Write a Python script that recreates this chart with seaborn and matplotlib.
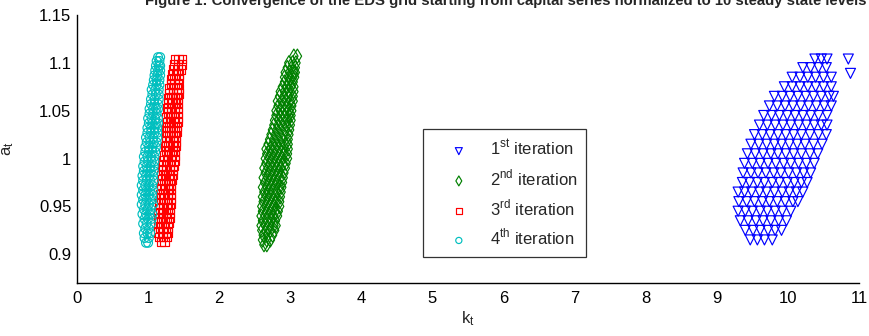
import matplotlib
matplotlib.use("Agg")
import matplotlib.pyplot as plt
import pandas as pd
import seaborn as sns

# ---- data: each row is one a-level with its k points ----
# 1st iteration (blue triangles)
it1_a = [0.915, 0.925, 0.935, 0.945, 0.955, 0.965, 0.975, 0.985, 0.995, 1.005,
         1.015, 1.025, 1.035, 1.045, 1.055, 1.065, 1.075, 1.085, 1.095, 1.104, 1.089]
it1_k = [
    [9.47, 9.57, 9.67, 9.78],
    [9.40, 9.51, 9.61, 9.72, 9.82, 9.91],
    [9.33, 9.44, 9.55, 9.65, 9.76, 9.87, 9.98],
    [9.30, 9.40, 9.50, 9.61, 9.71, 9.82, 9.92, 10.04],
    [9.31, 9.42, 9.53, 9.64, 9.74, 9.85, 9.96, 10.07, 10.14],
    [9.30, 9.39, 9.49, 9.60, 9.70, 9.81, 9.92, 10.02, 10.12, 10.21],
    [9.36, 9.46, 9.57, 9.67, 9.78, 9.88, 9.99, 10.09, 10.19, 10.27],
    [9.37, 9.48, 9.58, 9.69, 9.80, 9.90, 10.01, 10.12, 10.22, 10.32],
    [9.39, 9.50, 9.61, 9.72, 9.83, 9.94, 10.04, 10.15, 10.26, 10.37],
    [9.43, 9.54, 9.65, 9.76, 9.86, 9.97, 10.08, 10.19, 10.31, 10.42],
    [9.48, 9.59, 9.70, 9.81, 9.91, 10.02, 10.13, 10.24, 10.36, 10.48],
    [9.53, 9.64, 9.75, 9.86, 9.97, 10.08, 10.19, 10.31, 10.43, 10.54],
    [9.60, 9.71, 9.82, 9.93, 10.04, 10.15, 10.26, 10.37, 10.47, 10.55],
    [9.66, 9.77, 9.88, 9.99, 10.10, 10.21, 10.32, 10.43, 10.55],
    [9.74, 9.85, 9.96, 10.07, 10.18, 10.29, 10.40, 10.51, 10.61],
    [9.81, 9.92, 10.03, 10.14, 10.25, 10.36, 10.47, 10.58, 10.64],
    [9.95, 10.06, 10.17, 10.28, 10.39, 10.50, 10.61],
    [10.06, 10.17, 10.28, 10.39, 10.50, 10.61],
    [10.21, 10.32, 10.43, 10.54],
    [10.38, 10.47, 10.55, 10.85],
    [10.88],
]

# 2nd iteration (green diamonds)
it2_a = [0.910, 0.915, 0.920, 0.925, 0.930, 0.935, 0.940, 0.945, 0.950, 0.955,
         0.960, 0.965, 0.970, 0.975, 0.980, 0.985, 0.990, 0.995, 1.000, 1.005,
         1.010, 1.015, 1.020, 1.025, 1.030, 1.035, 1.040, 1.045, 1.050, 1.055,
         1.060, 1.065, 1.070, 1.075, 1.080, 1.085, 1.090, 1.095, 1.100, 1.107]
it2_k = [
    [2.63, 2.67], [2.61, 2.67, 2.72], [2.62, 2.68, 2.75],
    [2.60, 2.66, 2.72, 2.78], [2.59, 2.65, 2.71, 2.77, 2.80],
    [2.61, 2.67, 2.73, 2.79], [2.59, 2.65, 2.71, 2.77, 2.82],
    [2.61, 2.67, 2.73, 2.79, 2.83], [2.60, 2.66, 2.72, 2.78, 2.85],
    [2.62, 2.68, 2.74, 2.80, 2.85], [2.61, 2.67, 2.73, 2.79, 2.86],
    [2.63, 2.69, 2.75, 2.81, 2.87], [2.61, 2.67, 2.73, 2.79, 2.85, 2.88],
    [2.64, 2.70, 2.76, 2.82, 2.89], [2.62, 2.68, 2.74, 2.80, 2.86, 2.90],
    [2.65, 2.71, 2.77, 2.83, 2.91], [2.63, 2.69, 2.75, 2.81, 2.87, 2.93],
    [2.66, 2.72, 2.78, 2.84, 2.90, 2.94], [2.65, 2.71, 2.77, 2.83, 2.89, 2.96],
    [2.67, 2.73, 2.79, 2.85, 2.91, 2.96], [2.66, 2.72, 2.78, 2.84, 2.90, 2.97],
    [2.69, 2.75, 2.81, 2.87, 2.93, 2.97], [2.71, 2.77, 2.83, 2.89, 2.97],
    [2.73, 2.79, 2.85, 2.91, 2.98], [2.75, 2.81, 2.87, 2.93, 2.99],
    [2.77, 2.83, 2.89, 2.95, 3.00], [2.78, 2.84, 2.90, 2.96, 3.01],
    [2.80, 2.86, 2.92, 2.98, 3.01], [2.80, 2.86, 2.92, 2.98, 3.02],
    [2.83, 2.89, 2.95, 3.02], [2.82, 2.88, 2.94, 3.00, 3.04],
    [2.85, 2.91, 2.97, 3.04], [2.86, 2.92, 2.98, 3.05],
    [2.89, 2.95, 3.01, 3.05], [2.92, 2.98, 3.04],
    [2.92, 2.98, 3.03, 3.06], [2.93, 2.99, 3.05, 3.07],
    [2.96, 3.02, 3.07], [2.98, 3.03, 3.08], [3.05, 3.10],
]

# 3rd iteration (red squares)
it3_a = [0.913, 0.918, 0.923, 0.928, 0.933, 0.938, 0.943, 0.948, 0.953, 0.958,
         0.963, 0.968, 0.973, 0.978, 0.983, 0.988, 0.993, 0.998, 1.003, 1.008,
         1.013, 1.018, 1.023, 1.028, 1.033, 1.038, 1.043, 1.048, 1.053, 1.058,
         1.063, 1.068, 1.073, 1.078, 1.083, 1.088, 1.093, 1.098, 1.104]
it3_k = [
    [1.18, 1.23], [1.16, 1.21, 1.26], [1.15, 1.20, 1.25, 1.28],
    [1.17, 1.22, 1.27], [1.14, 1.19, 1.24, 1.29], [1.16, 1.21, 1.26, 1.30],
    [1.15, 1.20, 1.25, 1.30], [1.17, 1.22, 1.27, 1.31], [1.16, 1.21, 1.26, 1.32],
    [1.18, 1.23, 1.28, 1.32], [1.17, 1.22, 1.27, 1.32], [1.19, 1.24, 1.29, 1.32],
    [1.18, 1.23, 1.28, 1.32], [1.20, 1.25, 1.30, 1.33], [1.19, 1.24, 1.29, 1.34],
    [1.21, 1.26, 1.31, 1.35], [1.20, 1.25, 1.30, 1.36], [1.22, 1.27, 1.32, 1.37],
    [1.23, 1.28, 1.33, 1.38], [1.25, 1.30, 1.35, 1.38], [1.24, 1.29, 1.34, 1.39],
    [1.26, 1.31, 1.36, 1.39], [1.25, 1.30, 1.35, 1.39], [1.27, 1.32, 1.37, 1.40],
    [1.25, 1.30, 1.35, 1.40], [1.27, 1.32, 1.37, 1.41], [1.26, 1.31, 1.36, 1.42],
    [1.28, 1.33, 1.38, 1.42], [1.27, 1.32, 1.37, 1.42], [1.29, 1.34, 1.39, 1.42],
    [1.28, 1.33, 1.38, 1.42], [1.30, 1.35, 1.40, 1.43], [1.30, 1.35, 1.40, 1.43],
    [1.32, 1.37, 1.42], [1.32, 1.37, 1.43], [1.34, 1.39, 1.43],
    [1.36, 1.41, 1.46], [1.37, 1.42, 1.47], [1.38, 1.43, 1.48],
]

# 4th iteration (cyan circles)
it4_a = [0.912, 0.917, 0.922, 0.927, 0.932, 0.937, 0.942, 0.947, 0.952, 0.957,
         0.962, 0.967, 0.972, 0.977, 0.982, 0.987, 0.992, 0.997, 1.002, 1.007,
         1.012, 1.017, 1.022, 1.027, 1.032, 1.037, 1.042, 1.047, 1.052, 1.057,
         1.062, 1.067, 1.072, 1.077, 1.082, 1.087, 1.092, 1.097, 1.102, 1.106]
it4_k = [
    [0.97, 1.00], [0.95, 1.01], [0.94, 0.99, 1.03], [0.96, 1.01],
    [0.93, 0.98, 1.04], [0.95, 1.00, 1.05], [0.92, 0.97, 1.02, 1.06],
    [0.94, 0.99, 1.04], [0.91, 0.96, 1.01, 1.07], [0.93, 0.98, 1.03, 1.06],
    [0.91, 0.96, 1.01, 1.06], [0.93, 0.98, 1.03, 1.07], [0.91, 0.96, 1.01, 1.06],
    [0.93, 0.98, 1.03, 1.08], [0.92, 0.97, 1.02, 1.07], [0.94, 0.99, 1.04, 1.08],
    [0.93, 0.98, 1.03, 1.08], [0.95, 1.00, 1.05, 1.09], [0.94, 0.99, 1.04, 1.09],
    [0.96, 1.01, 1.06, 1.10], [0.96, 1.01, 1.06, 1.11], [0.98, 1.03, 1.08, 1.12],
    [0.97, 1.02, 1.07, 1.13], [0.99, 1.04, 1.09, 1.13], [0.99, 1.04, 1.09, 1.13],
    [1.01, 1.06, 1.11, 1.14], [1.00, 1.05, 1.10, 1.14], [1.02, 1.07, 1.12],
    [1.02, 1.07, 1.11, 1.14], [1.04, 1.09, 1.14], [1.04, 1.09, 1.15],
    [1.06, 1.11, 1.15], [1.05, 1.10, 1.15], [1.07, 1.12, 1.16],
    [1.08, 1.12, 1.16], [1.09, 1.13, 1.17], [1.10, 1.14, 1.17],
    [1.11, 1.15, 1.17], [1.12, 1.16], [1.14, 1.17],
]

labels = ['1$^{\\mathregular{st}}$ iteration', '2$^{\\mathregular{nd}}$ iteration',
          '3$^{\\mathregular{rd}}$ iteration', '4$^{\\mathregular{th}}$ iteration']
colors = ['#0000ff', '#008000', '#ff0000', '#00bfbf']
markers = ['v', 'd', 's', 'o']
sizes = [52, 52, 38, 40]

xticks = list(range(0, 12))
yticks = [0.9, 0.95, 1.0, 1.05, 1.1, 1.15]
yticklabels = ['0.9', '0.95', '1', '1.05', '1.1', '1.15']
title = ('Figure 1: Convergence of the EDS grid starting from capital series '
         'normalized to 10 steady state levels')


def to_frame(a_rows, k_rows):
    rows = []
    for a, ks in zip(a_rows, k_rows):
        for k in ks:
            rows.append((k, a))
    return pd.DataFrame(rows, columns=['k', 'a'])


frames = [to_frame(it1_a, it1_k), to_frame(it2_a, it2_k),
          to_frame(it3_a, it3_k), to_frame(it4_a, it4_k)]

sns.set_style('white')
plt.rcParams['font.family'] = ['Liberation Sans', 'DejaVu Sans']
plt.rcParams['mathtext.fontset'] = 'custom'
plt.rcParams['mathtext.rm'] = 'Liberation Sans'

fig = plt.figure(figsize=(8.7, 3.36), dpi=100)
ax = fig.add_axes([77 / 870, 1 - 283 / 336, 782 / 870, 268 / 336])

for df, lab, col, mk, sz in zip(frames, labels, colors, markers, sizes):
    sns.scatterplot(data=df, x='k', y='a', marker=mk, s=sz, facecolor='none',
                    edgecolor=col, linewidth=0.85, label=lab, ax=ax)

ax.set_xlim(0, 11)
ax.set_ylim(0.87, 1.15)
ax.set_xticks(xticks)
ax.set_xticklabels([str(t) for t in xticks])
ax.set_yticks(yticks)
ax.set_yticklabels(yticklabels)
ax.tick_params(direction='in', length=5, width=0.8, labelsize=12, colors='black')
ax.tick_params(axis='x', pad=6)
ax.tick_params(axis='y', pad=4)
sns.despine(ax=ax)
for sp in ('left', 'bottom'):
    ax.spines[sp].set_color('black')
    ax.spines[sp].set_linewidth(1.0)

ax.set_xlabel('$\\mathregular{k_t}$', fontsize=12, labelpad=2)
ax.set_ylabel('$\\mathregular{a_t}$', fontsize=12)
ax.yaxis.set_label_coords(-(77 - 16) / 782, 0.5)

leg = ax.legend(loc='lower left', bbox_to_anchor=(346 / 782, 0.097), borderaxespad=0,
                fontsize=12, frameon=True, fancybox=False, labelspacing=0.55,
                handlelength=3.2, handletextpad=0.25, borderpad=0.55,
                markerscale=0.7)
leg.get_frame().set_edgecolor('black')
leg.get_frame().set_linewidth(0.9)

fig.text(145 / 870, 1 - 5 / 336, title, fontsize=10.7, va='baseline', ha='left',
         family=['Liberation Sans', 'DejaVu Sans'], fontweight='bold')

fig.savefig('out.png', dpi=100)
